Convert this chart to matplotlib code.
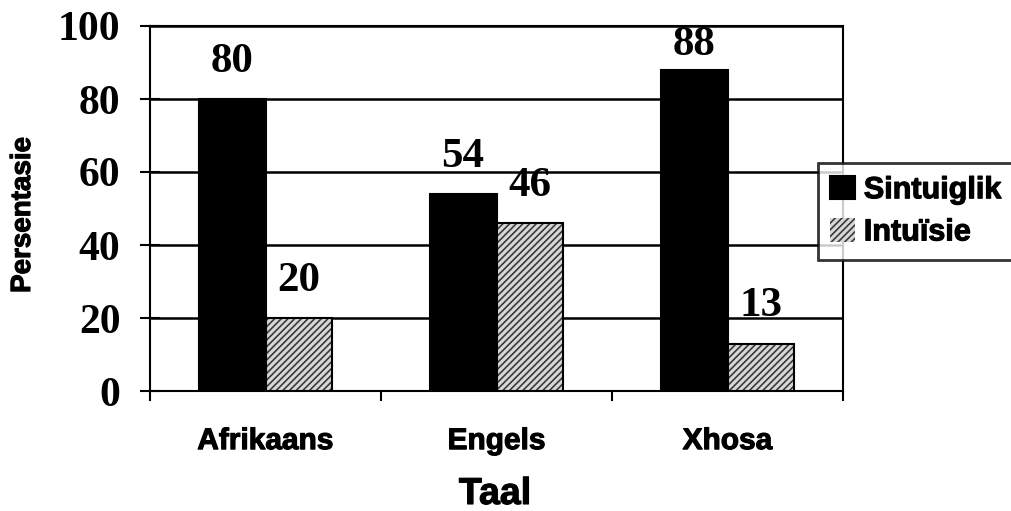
import matplotlib
matplotlib.use("Agg")
from matplotlib import pyplot as plt
from matplotlib import patheffects as pe
import numpy as np

# data
talen = ["Afrikaans", "Engels", "Xhosa"]
sintuiglik = [80, 54, 88]
intuisie = [20, 46, 13]
reeks_name = ["Sintuiglik", "Intuïsie"]
y_ticks = [0, 20, 40, 60, 80, 100]

plt.rcParams["hatch.linewidth"] = 1.2

# makes the sans text a bit heavier, like the original
dik = [pe.withStroke(linewidth=0.8, foreground="black")]

fig = plt.figure(figsize=(10.11, 5.11), dpi=100)
ax = fig.add_axes([150 / 1011, 1 - 391 / 511, 693 / 1011, 365 / 511])

x = np.arange(len(talen))
w = 0.29

b1 = ax.bar(x - w / 2, sintuiglik, w, color="black", edgecolor="black",
            linewidth=1.5, zorder=3, label=reeks_name[0])
b2 = ax.bar(x + w / 2, intuisie, w, color="#d8d8d8", edgecolor="#3a3a3a",
            hatch="/////", linewidth=0, zorder=3, label=reeks_name[1])
# black outline over the hatched bars
ax.bar(x + w / 2, intuisie, w, fill=False, edgecolor="black",
       linewidth=1.5, zorder=4)

for bars, vals in ((b1, sintuiglik), (b2, intuisie)):
    for r, v in zip(bars, vals):
        # label near the top gets squeezed under the 100 line
        off = 4 if v > 85 else 13
        ax.annotate(str(v), (r.get_x() + r.get_width() / 2, v),
                    xytext=(0, off), textcoords="offset points",
                    ha="center", va="bottom", fontsize=31,
                    fontfamily="Liberation Serif", fontweight="bold")

ax.set_xlim(-0.5, 2.5)
ax.set_ylim(0, 100)
ax.set_yticks(y_ticks)
ax.set_yticklabels([str(t) for t in y_ticks], fontsize=30,
                   fontfamily="Liberation Serif", fontweight="bold")
ax.tick_params(axis="y", direction="inout", length=14.5, width=1.5, pad=14)
ax.yaxis.grid(True, color="black", linewidth=1.8, zorder=0)

ax.set_xticks(x)
ax.set_xticklabels(talen, fontsize=21.5, fontfamily="Liberation Sans",
                   fontweight="bold", path_effects=dik)
ax.tick_params(axis="x", which="major", length=0, pad=26)
ax.set_xticks([-0.5, 0.5, 1.5, 2.5], minor=True)
ax.tick_params(axis="x", which="minor", direction="out", length=7, width=1.5)

for s in ax.spines.values():
    s.set_linewidth(1.5)
    s.set_color("black")

fig.text(23 / 1011, 1 - 215 / 511, "Persentasie", rotation=90,
         ha="center", va="center", fontsize=20,
         fontfamily="Liberation Sans", fontweight="bold", path_effects=dik)
fig.text(495 / 1011, 1 - 494 / 511, "Taal", ha="center", va="center",
         fontsize=27, fontfamily="Liberation Sans", fontweight="bold",
         path_effects=dik)

leg = fig.legend(handles=[b1, b2], loc="upper left",
                 bbox_to_anchor=(818 / 1011, 1 - 163 / 511),
                 prop={"family": "Liberation Sans", "weight": "bold", "size": 22},
                 frameon=True, fancybox=False, borderpad=0.4,
                 handlelength=0.8, handleheight=0.8, handletextpad=0.3,
                 labelspacing=0.4, borderaxespad=0)
leg.get_frame().set_edgecolor("black")
leg.get_frame().set_linewidth(2)
for t in leg.get_texts():
    t.set_path_effects(dik)

fig.savefig("out.png", dpi=100)
